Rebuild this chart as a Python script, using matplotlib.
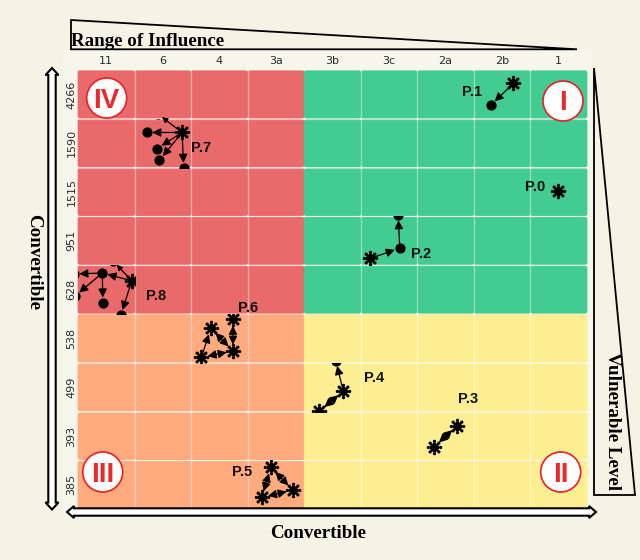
import numpy as np
import matplotlib
matplotlib.use("Agg")
import matplotlib.pyplot as plt
from matplotlib.patches import FancyBboxPatch, FancyArrowPatch, Rectangle, Polygon, Circle
from matplotlib.path import Path
from matplotlib.transforms import Affine2D

# ---------- data ----------
col_labels = ["11", "6", "4", "3a", "3b", "3c", "2a", "2b", "1"]
row_labels = ["4266", "1590", "1515", "951", "628", "538", "499", "393", "385"]

node_x = [8.49, 7.70, 7.30, 5.17, 5.69, 5.66, 6.70, 6.30, 4.69, 4.27, 4.56,
          3.41, 3.80, 3.25, 2.74, 2.35, 2.74, 2.18,
          1.84, 1.22, 1.40, 1.44, 1.87, 1.41,
          0.95, 0.43, 0.44, -0.05, -0.07, 0.76, 0.62]
node_y = [2.48, 0.27, 0.72, 3.86, 3.65, 2.97, 7.29, 7.72, 6.58, 6.99, 5.96,
          8.14, 8.61, 8.76, 5.11, 5.29, 5.76, 5.89,
          1.28, 1.28, 1.61, 1.85, 2.01, 0.90,
          4.32, 4.16, 4.77, 4.63, 4.18, 5.02, 3.91]
node_kind = ["s", "s", "c", "s", "c", "c", "s", "s", "s", "s", "c",
             "s", "s", "s", "s", "s", "s", "s",
             "s", "c", "c", "c", "c", "c",
             "s", "c", "c", "c", "c", "c", "c"]
node_cell_col = [8, 7, 7, 5, 5, 5, 6, 6, 4, 4, 4,
                 3, 3, 3, 2, 2, 2, 2,
                 1, 1, 1, 1, 1, 1,
                 0, 0, 0, 0, 0, 0, 0]
node_cell_row = [2, 0, 0, 3, 3, 3, 7, 7, 6, 6, 6,
                 8, 8, 8, 5, 5, 5, 5,
                 1, 1, 1, 1, 1, 1,
                 4, 4, 4, 4, 4, 4, 4]

edge_from = [1, 3, 4, 6, 8, 8, 11, 12, 11, 14, 15, 16, 17,
             18, 18, 18, 18, 18, 24, 24, 24, 25, 25, 25]
edge_to = [2, 4, 5, 7, 9, 10, 12, 13, 13, 16, 16, 17, 15,
           19, 20, 21, 22, 23, 25, 29, 30, 26, 27, 28]
edge_both = [0, 0, 0, 1, 1, 0, 1, 1, 1, 1, 1, 1, 0,
             0, 0, 0, 0, 0, 0, 0, 0, 0, 0, 0]
edge_small = [0, 0, 0, 0, 0, 0, 0, 0, 0, 0, 0, 0, 0,
              0, 0, 0, 0, 1, 0, 0, 1, 0, 0, 0]

path_labels = ["P.0", "P.1", "P.2", "P.3", "P.4", "P.5", "P.6", "P.7", "P.8"]
label_px_x = [535.5, 472, 421, 468, 374, 242.5, 248.5, 201, 156.5]
label_px_y = [187, 92, 254, 399, 378.5, 472, 307.5, 148, 296]

quadrant_names = ["I", "II", "III", "IV"]
quadrant_px_x = [563, 560.7, 102.7, 106.7]
quadrant_px_y = [101, 472, 472, 98]

RED, GREEN, ORANGE, YELLOW = "#E96A6A", "#42CC92", "#FFAB7E", "#FDEE92"
BG = "#F5F3E6"

# ---------- figure ----------
fig = plt.figure(figsize=(6.4, 5.6), dpi=100, facecolor=BG)
px = Affine2D().scale(1 / 640, -1 / 560).translate(0, 1) + fig.transFigure

fig.add_artist(Rectangle((63, 50), 529, 468, transform=px, fc="#F7F6EC", ec="none", zorder=-5))

L, R, T, B = 78, 587, 70, 509.2
ax = fig.add_axes([L / 640, 1 - B / 560, (R - L) / 640, (B - T) / 560])
ax.set_xlim(0, 9)
ax.set_ylim(9, 0)
ax.set_facecolor("none")
for s in ax.spines.values():
    s.set_visible(False)
ax.xaxis.tick_top()
ax.set_xticks(np.arange(9) + 0.5, col_labels, fontsize=8, color="#2a2a2a")
ax.set_yticks(np.arange(9) + 0.5, row_labels, fontsize=8, color="#2a2a2a",
              rotation=90, va="center")
ax.tick_params(axis="x", length=0, pad=3)
ax.tick_params(axis="y", length=0, pad=1)

# tiles: rounded corners leave the small pale diamonds at the crossings
cw, ch = (R - L) / 9, (B - T) / 9
rad = 2.6 / cw
over = 0.35 / cw
for c in range(9):
    for r in range(9):
        col = (RED if c < 4 else GREEN) if r < 5 else (ORANGE if c < 4 else YELLOW)
        ax.add_patch(FancyBboxPatch((c + rad, r + rad * cw / ch), 1 - 2 * rad, 1 - 2 * rad * cw / ch,
                                    boxstyle=f"round,pad={rad + over},rounding_size={rad}",
                                    mutation_aspect=ch / cw, fc=col, ec="none", zorder=1,
                                    clip_on=False))
# pale cell separators inside quadrants
sep = dict(color="white", alpha=0.45, lw=0.9, zorder=2, solid_capstyle="butt")
for c in [1, 2, 3, 5, 6, 7, 8]:
    ax.plot([c, c], [0, 9], **sep)
for r in [1, 2, 3, 4, 6, 7, 8]:
    ax.plot([0, 9], [r, r], **sep)

# star marker
parts = []
circ = Path.unit_circle()
parts.append(circ.transformed(Affine2D().scale(0.58)))
for a in np.arange(8) * np.pi / 4:
    rot = Affine2D().rotate(a)
    parts.append(Path([(0.4, -0.08), (0.85, -0.08), (0.85, 0.08), (0.4, 0.08), (0.4, -0.08)],
                      closed=True).transformed(rot))
    parts.append(circ.transformed(Affine2D().scale(0.21).translate(0.79, 0) + rot))
star = Path.make_compound_path(*parts)

# edges
for a, b, both, small in zip(edge_from, edge_to, edge_both, edge_small):
    scale = 5.5 if small else 8.5
    style = "<|-|>" if both else "-|>"
    ax.add_patch(FancyArrowPatch((node_x[a], node_y[a]), (node_x[b], node_y[b]),
                                 arrowstyle=f"{style},head_length=0.6,head_width=0.3",
                                 mutation_scale=scale,
                                 shrinkA=4.6 if both else 2.5,
                                 shrinkB=4.6 if node_kind[b] == "s" else 3.8,
                                 lw=0.9, color="black", zorder=4, clip_on=False))

# nodes, clipped to their own cell
for x, y, k, cc, cr in zip(node_x, node_y, node_kind, node_cell_col, node_cell_row):
    line, = ax.plot([x], [y], ls="none", marker=star if k == "s" else "o",
                    ms=11.2 if k == "s" else 7.4, mfc="black", mec="black",
                    mew=0, zorder=5)
    line.set_clip_path(Rectangle((cc, cr), 1, 1, transform=ax.transData))

# path labels
for t, x, y in zip(path_labels, label_px_x, label_px_y):
    fig.text(x, y, t, transform=px, family="Liberation Sans", weight="bold", fontsize=10.5,
             ha="center", va="center", color="#111111", zorder=6)

# quadrant badges
for t, x, y in zip(quadrant_names, quadrant_px_x, quadrant_px_y):
    fig.add_artist(Circle((x, y), 20, transform=px, fc="white", ec="#EE1C25", lw=1.2, zorder=6))
    fig.text(x, y - 0.5, t, transform=px, family="Liberation Sans", weight="bold", fontsize=20,
             ha="center", va="center_baseline", color="#EA2A2A", zorder=7)

# outer triangles
fig.add_artist(Polygon([(71, 20), (71, 49.3), (577, 49.3)], closed=True, transform=px,
                       fc="none", ec="black", lw=1.3, zorder=3))
fig.add_artist(Polygon([(594, 68), (594, 495), (635, 495)], closed=True, transform=px,
                       fc="none", ec="black", lw=1.3, zorder=3))

# block arrows
def block_h(x0, x1, y):
    return [(x0, y), (x0 + 7, y - 6), (x0 + 7, y - 3.7), (x1 - 7, y - 3.7), (x1 - 7, y - 6), (x1, y),
            (x1 - 7, y + 6), (x1 - 7, y + 3.7), (x0 + 7, y + 3.7), (x0 + 7, y + 6)]

def block_v(x, y0, y1):
    return [(x, y0), (x + 6.5, y0 + 7), (x + 3.7, y0 + 7), (x + 3.7, y1 - 7), (x + 6.5, y1 - 7), (x, y1),
            (x - 6.5, y1 - 7), (x - 3.7, y1 - 7), (x - 3.7, y0 + 7), (x - 6.5, y0 + 7)]

fig.add_artist(Polygon(block_h(67, 596, 512), closed=True, transform=px,
                       fc="white", ec="black", lw=1.5, zorder=4))
fig.add_artist(Polygon(block_v(52, 68, 509.5), closed=True, transform=px,
                       fc="white", ec="black", lw=1.5, zorder=4))

# titles
serif = dict(family="Liberation Serif", weight="bold", fontsize=13.7, color="black", zorder=6)
fig.text(71, 41.5, "Range of Influence", transform=px, ha="left", va="center", **serif)
fig.text(318, 533, "Convertible", transform=px, ha="center", va="center", **serif)
fig.text(34, 262, "Convertible", transform=px, ha="center", va="center", rotation=-90, **serif)
fig.text(612, 421, "Vulnerable Level", transform=px, ha="center", va="center", rotation=-90, **serif)

fig.savefig("out.png", dpi=100, facecolor=BG)
